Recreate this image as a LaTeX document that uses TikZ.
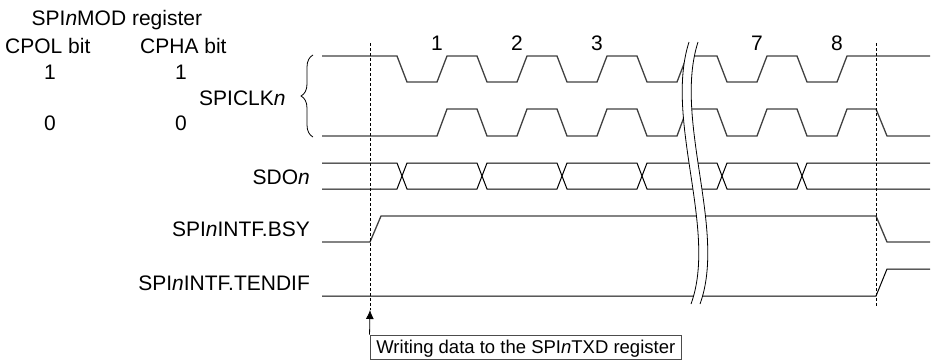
\documentclass[tikz,border=0pt]{standalone}
\usepackage{fontspec}
\setmainfont{Liberation Sans}
\usetikzlibrary{arrows.meta,decorations.pathreplacing}
\begin{document}
\begin{tikzpicture}[x=1pt,y=-1pt,
  sig/.style={line width=1.3pt,draw=black!75,line join=miter},
  sigthin/.style={line width=1pt,draw=black},
  lbl/.style={inner sep=0pt,font=\fontsize{21}{24}\selectfont},
  rlbl/.style={lbl,anchor=base east},
  clbl/.style={lbl,anchor=base},
  dashline/.style={line width=0.8pt,dash pattern=on 3pt off 2pt},
  breakline/.style={line width=0.8pt,draw=black}]
\useasboundingbox (0,0) rectangle (932,362);

% header texts
\node[lbl,anchor=base west] (mod) at (31.5,25) {SPI\textit{n}MOD register};
\node[lbl,anchor=base west] (cpol) at (5,53.3) {CPOL bit};
\node[lbl,anchor=base west] (cpha) at (140,53.3) {CPHA bit};
\node[clbl] (p1) at (50,79) {1};
\node[clbl] (h1) at (181,79) {1};
\node[clbl] (p0) at (50,130) {0};
\node[clbl] (h0) at (181,130) {0};
\node[lbl,anchor=base west] (clk) at (199,105) {SPICLK\textit{n}};

% signal labels
\node[rlbl] (sdo) at (310,184.3) {SDO\textit{n}};
\node[rlbl] (bsy) at (310,236.7) {SPI\textit{n}INTF.BSY};
\node[rlbl] (tend) at (310,290) {SPI\textit{n}INTF.TENDIF};

% clock numbers
\foreach \k/\t in {0/1,1/2,2/3,4/7,5/8}
  \node[clbl] (n\t) at ({437+80*\k},50) {\t};

% brace
\draw[line width=0.8pt,decorate,decoration={brace,amplitude=12pt}]
  (313,137) -- (313,55);

% SPICLKn, CPOL=1 CPHA=1
\draw[sig] (322,56) -- (397,56)
  \foreach \k in {0,...,5} {
    -- ({397+80*\k},56) -- ({407+80*\k},82) -- ({437+80*\k},82) -- ({447+80*\k},56)
  } -- (930,56);

% SPICLKn, CPOL=0 CPHA=0
\draw[sig] (322,136)
  \foreach \k in {0,...,4} {
    -- ({437+80*\k},136) -- ({447+80*\k},109) -- ({477+80*\k},109) -- ({487+80*\k},136)
  } -- (837,136) -- (847,109) -- (876,109) -- (887,136) -- (930,136);

% SDOn
\draw[sigthin] (322,163) -- (397,163) -- (407,189) -- (477,189) -- (487,163)
  -- (557,163) -- (567,189) -- (637,189) -- (647,163) -- (717,163) -- (727,189)
  -- (797,189) -- (807,163) -- (930,163);
\draw[sigthin] (322,189) -- (397,189) -- (407,163) -- (477,163) -- (487,189)
  -- (557,189) -- (567,163) -- (637,163) -- (647,189) -- (717,189) -- (727,163)
  -- (797,163) -- (807,189) -- (930,189);

% BSY
\draw[sig] (322,242) -- (370,242) -- (381,216) -- (876,216) -- (887,242) -- (930,242);
% TENDIF
\draw[sigthin] (322,296) -- (876,296) -- (887,269) -- (930,269);

% break
\fill[white] (689,42) .. controls (664,120) and (718,230) .. (691,304)
  -- (700,304) .. controls (727,230) and (673,120) .. (698,42) -- cycle;
\draw[breakline] (689,42) .. controls (664,120) and (718,230) .. (691,304);
\draw[breakline] (698,42) .. controls (673,120) and (727,230) .. (700,304);

% write box and arrow
\node[draw=black!70,line width=0.8pt,inner sep=0pt,minimum width=311.7pt,minimum height=24.3pt,
  text height=13.2pt,text depth=0pt,font=\fontsize{18.5}{21}\selectfont]
  (wbox) at (525.8,347.2) {Writing data to the SPI\textit{n}TXD register};
\coordinate (wtip) at (370,310);
\coordinate (dtop) at (370,43);
\draw[dashline] (dtop) -- (wtip);
\draw[line width=0.8pt,-{Latex[length=9pt,width=8pt]}] (wbox.north west) -- (wtip);

\coordinate (etop) at (876,43);
\coordinate (ebot) at (876,307);
\draw[dashline] (etop) -- (ebot);
\end{tikzpicture}
\end{document}
